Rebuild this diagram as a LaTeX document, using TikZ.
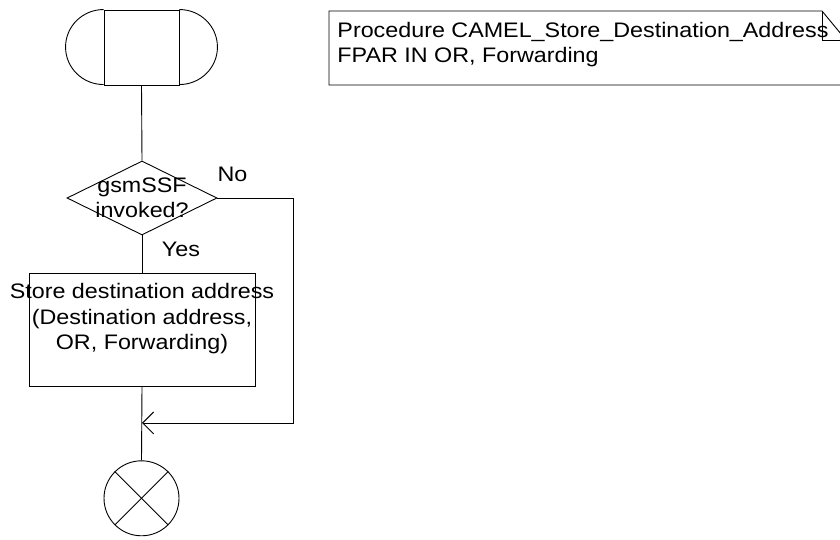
\documentclass[tikz,border=0pt]{standalone}
\usepackage{fontspec}
\setmainfont[FakeStretch=1.11]{Liberation Sans}
\usetikzlibrary{shapes.geometric,arrows.meta}
\begin{document}
\begin{tikzpicture}[x=1pt,y=1pt,line width=0.9pt,
  txt/.style={font=\fontsize{21}{25.5}\selectfont,inner sep=0pt},
  flow/.style={draw,inner sep=0pt},
  barb/.style={-{Straight Barb[length=11pt,width=22pt]}}]
\useasboundingbox (0,0) rectangle (840,540);
% start symbol
\node[flow,minimum width=75pt,minimum height=75pt] (start) at (141.5,492.5) {};
\draw (start.north west) arc[start angle=90,end angle=270,x radius=38pt,y radius=37.5pt];
\draw (start.north east) arc[start angle=90,end angle=-90,x radius=38pt,y radius=37.5pt];
% decision
\node[flow,diamond,aspect=2,minimum width=150pt,minimum height=74pt] (dec) at (142,342) {};
\node[txt,align=center] (dectext) at (142,342) {gsmSSF\\invoked?};
% task
\node[flow,minimum width=226pt,minimum height=113pt] (task) at (142,210.5) {};
\node[txt,align=center] (tasktext) at (142,221) {Store destination address\\(Destination address,\\OR, Forwarding)};
% end
\node[flow,circle,minimum size=75pt] (stop) at (141.5,41.7) {};
\draw (stop.north west) -- (stop.south east);
\draw (stop.north east) -- (stop.south west);
% procedure text symbol
\draw (329,455) -- (329,529) -- (822,529) -- (846,500) -- (846,455) -- cycle;
\draw (822,529) -- (822,500) -- (846,500);
\node[txt,font=\fontsize{21}{25}\selectfont,align=left,anchor=north west] (proctext) at (337,518.6)
  {Procedure CAMEL\_Store\_Destination\_Address\\FPAR IN OR, Forwarding};
% connectors
\coordinate (merge) at (142,117);
\coordinate (corner) at (293,342);
\draw (start.south) -- (dec.north);
\draw (dec.south) -- (task.north);
\draw (task.south) -- (stop.north);
\draw[barb] (dec.east) -- (corner) |- (merge);
\node[txt,anchor=base] (no) at (232.5,358) {No};
\node[txt,anchor=base] (yes) at (181,283) {Yes};
\end{tikzpicture}
\end{document}
